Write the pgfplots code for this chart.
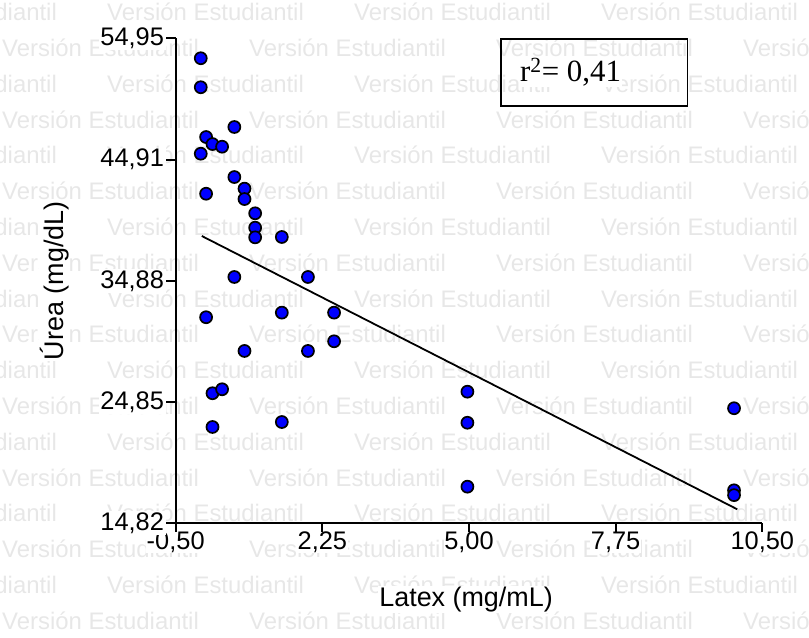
\documentclass[border=0pt]{standalone}
\usepackage{pgfplots}
\pgfplotsset{compat=1.18}
\usepackage{fontspec}
\setmainfont{Liberation Sans}
\newfontfamily\timesfont{Liberation Serif}
\definecolor{wm}{gray}{0.905}
\definecolor{dotblue}{RGB}{0,0,255}
\begin{document}
\begin{tikzpicture}
\useasboundingbox (0bp,0bp) rectangle (809bp,638bp);
\begin{scope}[x=1bp,y=1bp]
\clip (0,0) rectangle (809,638);
\foreach \k in {0,...,8}{
  \foreach \j in {0,...,3}{
    \node[anchor=west, inner sep=0pt, text=wm, font=\fontsize{24}{24}\selectfont] at ({-140+247*\j}, {638-12-71.6*\k}) {Versión Estudiantil};
    \node[anchor=west, inner sep=0pt, text=wm, font=\fontsize{24}{24}\selectfont] at ({2+247*\j}, {638-47.8-71.6*\k}) {Versión Estudiantil};
  }
}
\end{scope}
\begin{axis}[
  at={(175.7bp,114.7bp)}, anchor=south west,
  scale only axis, width=586.6bp, height=485bp,
  xmin=-0.5, xmax=10.5, ymin=14.82, ymax=54.95,
  axis lines*=left,
  axis line style={line width=1.8bp, black},
  xtick={-0.5,2.25,5,7.75,10.5},
  xticklabels={{-0,50},{2,25},{5,00},{7,75},{10,50}},
  ytick={14.82,24.85,34.88,44.91,54.95},
  yticklabels={{14,82},{24,85},{34,88},{44,91},{54,95}},
  tick align=outside,
  major tick length=10bp,
  tick style={line width=1.8bp, black},
  ticklabel style={font=\fontsize{25.5}{25.5}\selectfont, fill=white, inner sep=1.5bp},
  xticklabel style={yshift=2bp, inner sep=0.5bp},
  xlabel={Latex (mg/mL)}, ylabel={Úrea (mg/dL)},
  label style={font=\fontsize{27}{27}\selectfont, fill=white, inner sep=1bp},
  xlabel style={at={(axis description cs:0.495,-0.158)}, anchor=center},
  ylabel style={at={(axis description cs:-0.207,0.5)}, anchor=center},
  clip=false,
]
\addplot[black, line width=1.8bp, no marks] coordinates {(-0.01,38.59) (10.03,15.98)};
\addplot[only marks, mark=*, mark size=6bp, mark options={fill=dotblue, draw=black, line width=1.7bp}] coordinates {
(-0.03,53.30) (-0.03,50.90) (0.60,47.61) (0.07,46.78) (0.19,46.20) (0.37,45.98)
(-0.03,45.40) (0.60,43.47) (0.79,42.51) (0.79,41.65) (0.07,42.09) (0.99,40.47)
(0.99,39.28) (0.99,38.48) (1.49,38.51) (0.60,35.20) (1.98,35.20) (0.07,31.87)
(1.49,32.25) (2.47,32.25) (2.47,29.88) (0.79,29.08) (1.98,29.08) (0.19,25.58)
(0.37,25.91) (0.19,22.79) (1.49,23.20) (4.97,25.71) (4.97,23.14) (4.97,17.85)
(9.97,24.34) (9.97,17.55) (9.97,17.15)
};
\end{axis}
\draw[line width=1.6bp] (501bp,532bp) rectangle (687.3bp,598.7bp);
\node[anchor=west, inner sep=1bp, fill=white, font=\timesfont\fontsize{31}{31}\selectfont] at (519bp,566bp) {r\textsuperscript{2}= 0,41};
\end{tikzpicture}
\end{document}
